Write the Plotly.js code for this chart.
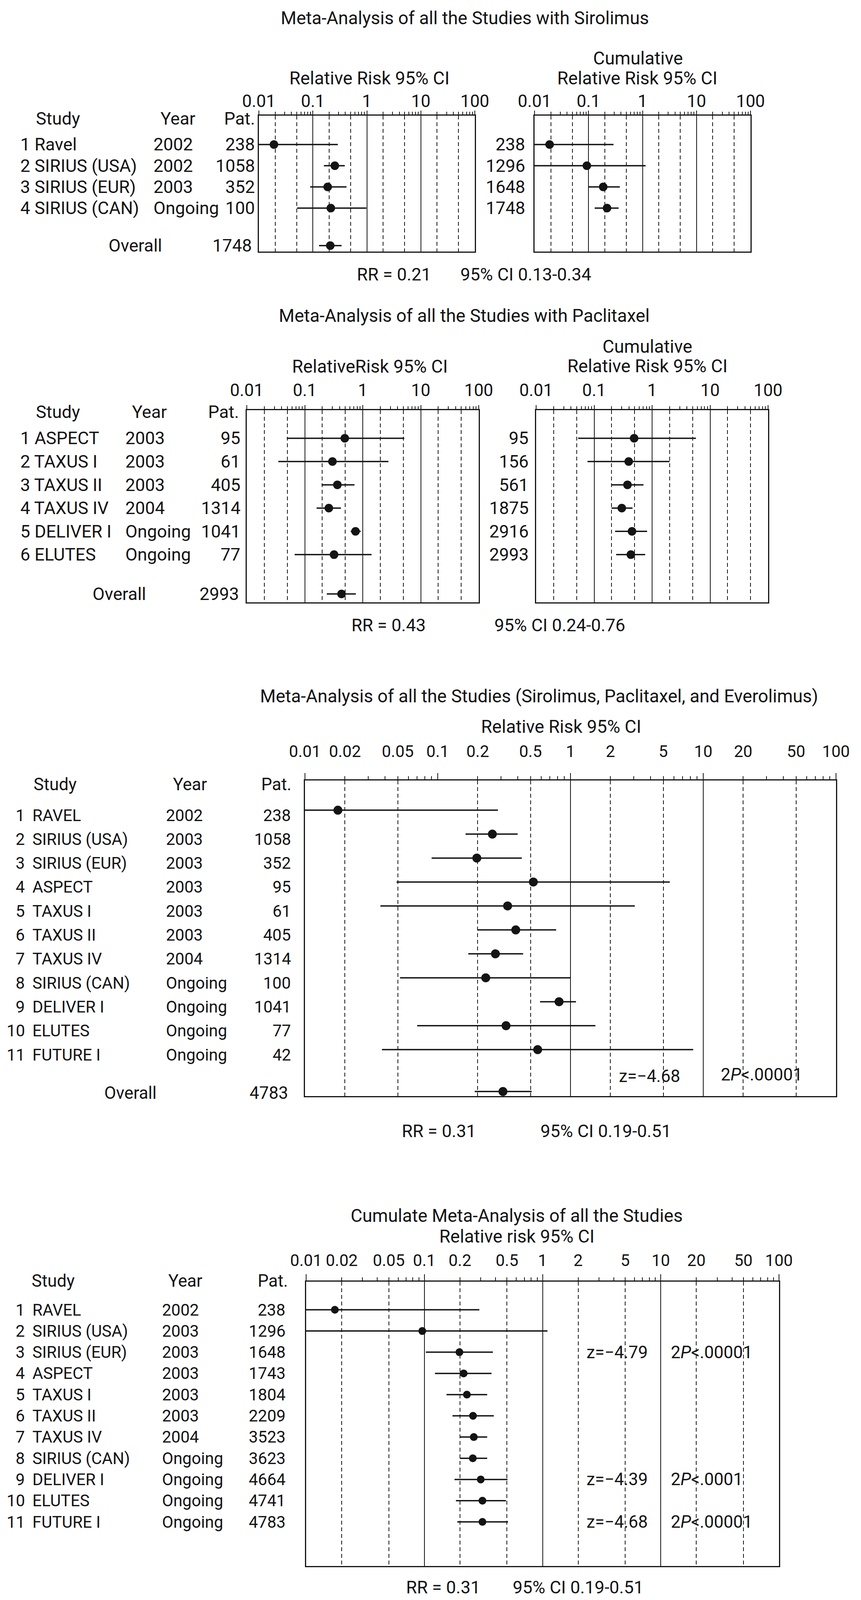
<!DOCTYPE html>
<html><head><meta charset="utf-8">
<script src="https://cdn.plot.ly/plotly-3.0.1.min.js"></script>
<style>html,body{margin:0;padding:0;background:#fff}#chart{width:2205px;height:4132px}</style>
</head><body><div id="chart"></div><script>
// ---------------- DATA ----------------
const decadeTicks = [0.01, 0.1, 1, 10, 100];
const decadeLabels = ['0.01', '0.1', '1', '10', '100'];
const fineTicks = [0.01, 0.02, 0.05, 0.1, 0.2, 0.5, 1, 2, 5, 10, 20, 50, 100];
const fineLabels = ['0.01', '0.02', '0.05', '0.1', '0.2', '0.5', '1', '2', '5', '10', '20', '50', '100'];
const minorTicks = [0.02,0.03,0.04,0.05,0.06,0.07,0.08,0.09,0.2,0.3,0.4,0.5,0.6,0.7,0.8,0.9,2,3,4,5,6,7,8,9,20,30,40,50,60,70,80,90];
const dashedGrid = [0.02, 0.05, 0.2, 0.5, 2, 5, 20, 50];
const solidGridA = [0.1, 1, 10];
const solidGridB = [1, 10];

// Panel 1: Sirolimus
const p1Studies = ['Ravel', 'SIRIUS (USA)', 'SIRIUS (EUR)', 'SIRIUS (CAN)'];
const p1Years = ['2002', '2002', '2003', 'Ongoing'];
const p1Pat = [238, 1058, 352, 100];
const p1RR = [0.019, 0.255, 0.188, 0.215];
const p1Lo = [0.0012, 0.16, 0.089, 0.051];
const p1Hi = [0.29, 0.39, 0.42, 0.98];
const p1Overall = [0.21, 0.13, 0.34];   // RR, lo, hi
const p1OverallPat = 1748;
const p1CumPat = [238, 1296, 1648, 1748];
const p1CumRR = [0.019, 0.093, 0.187, 0.22];
const p1CumLo = [0.0012, 0.0076, 0.10, 0.13];
const p1CumHi = [0.29, 1.14, 0.38, 0.36];

// Panel 2: Paclitaxel
const p2Studies = ['ASPECT', 'TAXUS I', 'TAXUS II', 'TAXUS IV', 'DELIVER I', 'ELUTES'];
const p2Years = ['2003', '2003', '2003', '2004', 'Ongoing', 'Ongoing'];
const p2Pat = [95, 61, 405, 1314, 1041, 77];
const p2RR = [0.49, 0.30, 0.365, 0.26, 0.75, 0.32];
const p2Lo = [0.049, 0.035, 0.195, 0.16, 0.62, 0.067];
const p2Hi = [5.2, 2.77, 0.72, 0.42, 0.92, 1.42];
const p2Overall = [0.43, 0.24, 0.76];
const p2OverallPat = 2993;
const p2CumPat = [95, 156, 561, 1875, 2916, 2993];
const p2CumRR = [0.49, 0.395, 0.376, 0.30, 0.45, 0.43];
const p2CumLo = [0.053, 0.077, 0.20, 0.20, 0.23, 0.24];
const p2CumHi = [5.7, 2.0, 0.71, 0.46, 0.82, 0.76];

// Panel 3: all studies
const p3Studies = ['RAVEL', 'SIRIUS (USA)', 'SIRIUS (EUR)', 'ASPECT', 'TAXUS I', 'TAXUS II', 'TAXUS IV', 'SIRIUS (CAN)', 'DELIVER I', 'ELUTES', 'FUTURE I'];
const p3Years = ['2002', '2003', '2003', '2003', '2003', '2003', '2004', 'Ongoing', 'Ongoing', 'Ongoing', 'Ongoing'];
const p3Pat = [238, 1058, 352, 95, 61, 405, 1314, 100, 1041, 77, 42];
const p3RR = [0.0177, 0.258, 0.197, 0.525, 0.336, 0.387, 0.272, 0.23, 0.82, 0.327, 0.566];
const p3Lo = [0.0011, 0.162, 0.09, 0.049, 0.037, 0.20, 0.17, 0.052, 0.59, 0.07, 0.038];
const p3Hi = [0.284, 0.40, 0.43, 5.6, 3.05, 0.78, 0.44, 1.0, 1.1, 1.54, 8.4];
const p3Overall = [0.31, 0.19, 0.51];
const p3OverallPat = 4783;
const p3Z = 'z=\u22124.68';
const p3P = '2<i>P</i>&lt;.00001';

// Panel 4: cumulative all studies
const p4Pat = [238, 1296, 1648, 1743, 1804, 2209, 3523, 3623, 4664, 4741, 4783];
const p4RR = [0.0175, 0.096, 0.198, 0.215, 0.229, 0.258, 0.262, 0.257, 0.30, 0.31, 0.31];
const p4Lo = [0.0011, 0.0083, 0.103, 0.123, 0.154, 0.173, 0.20, 0.20, 0.18, 0.185, 0.19];
const p4Hi = [0.292, 1.1, 0.38, 0.37, 0.34, 0.387, 0.34, 0.34, 0.505, 0.49, 0.51];
const p4StatRows = [3, 9, 11];
const p4Z = ['z=\u22124.79', 'z=\u22124.39', 'z=\u22124.68'];
const p4P = ['2<i>P</i>&lt;.00001', '2<i>P</i>&lt;.0001', '2<i>P</i>&lt;.00001'];

// ---------------- BUILD ----------------
const W = 2205, H = 4132, INK = '#141414';
const FONT = 'Roboto, Liberation Sans, sans-serif';
const layout = {width: W, height: H, margin: {l: 0, r: 0, t: 0, b: 0}, paper_bgcolor: '#fff',
  plot_bgcolor: 'rgba(0,0,0,0)', showlegend: false, font: {family: FONT, size: 44, color: INK}, annotations: []};
const traces = [];
const xName = n => n === 1 ? 'x' : 'x' + n;
const xKey = n => n === 1 ? 'xaxis' : 'xaxis' + n;
const yName = n => n === 1 ? 'y' : 'y' + n;
const yKey = n => n === 1 ? 'yaxis' : 'yaxis' + n;

function panel(p, box, yRange, tickV, tickT, solidV, st) {
  const xm = 3 * p + 1, xa = 3 * p + 2, xb = 3 * p + 3, yn = p + 1;
  const dom = [box.l / W, box.r / W];
  const ydom = [1 - box.b / H, 1 - box.t / H];
  layout[xKey(xm)] = {type: 'log', range: [-2, 2], domain: dom, anchor: yName(yn), side: 'top',
    tickmode: 'array', tickvals: tickV, ticktext: tickT, ticks: 'outside', ticklen: st.minLen, tickwidth: 2, tickcolor: INK,
    tickfont: {size: st.tickSize, color: INK, family: FONT}, ticklabelstandoff: st.standoff, tickangle: 0,
    showgrid: false, zeroline: false, showline: true, mirror: true, linewidth: 3, linecolor: INK,
    minor: {tickmode: 'array', tickvals: minorTicks, ticks: 'outside', ticklen: st.minLen, tickwidth: 2, tickcolor: INK, showgrid: false},
    fixedrange: true};
  layout[xKey(xa)] = {type: 'log', range: [-2, 2], domain: dom, anchor: yName(yn), overlaying: xName(xm), side: 'top',
    tickmode: 'array', tickvals: decadeTicks, ticks: 'outside', ticklen: st.majLen, tickwidth: 2, tickcolor: INK,
    showticklabels: false, showgrid: false, zeroline: false, showline: false,
    minor: {tickmode: 'array', tickvals: dashedGrid, ticks: '', showgrid: true, griddash: '10px,7px', gridcolor: INK, gridwidth: 2},
    fixedrange: true};
  layout[xKey(xb)] = {type: 'log', range: [-2, 2], domain: dom, anchor: yName(yn), overlaying: xName(xm), side: 'top',
    tickmode: 'array', tickvals: solidV, ticks: '', showticklabels: false, showgrid: true, gridcolor: INK, gridwidth: 2,
    zeroline: false, showline: false, fixedrange: true};
  layout[yKey(yn)] = {domain: ydom, range: yRange, anchor: xName(xm), showticklabels: false, ticks: '',
    showgrid: false, zeroline: false, showline: true, mirror: true, linewidth: 3, linecolor: INK, fixedrange: true};
  traces.push({type: 'scatter', x: [], y: [], xaxis: xName(xa), yaxis: yName(yn), hoverinfo: 'skip'});
  traces.push({type: 'scatter', x: [], y: [], xaxis: xName(xb), yaxis: yName(yn), hoverinfo: 'skip'});
  return {x: xName(xm), y: yName(yn)};
}

function forest(ax, rows, rr, lo, hi, size, lw) {
  const xs = [], ys = [];
  rows.forEach((r, i) => { xs.push(lo[i], hi[i], null); ys.push(r, r, null); });
  traces.push({type: 'scatter', mode: 'lines', x: xs, y: ys, xaxis: ax.x, yaxis: ax.y,
    line: {color: INK, width: lw}, hoverinfo: 'skip', cliponaxis: true});
  traces.push({type: 'scatter', mode: 'markers', x: rr, y: rows, xaxis: ax.x, yaxis: ax.y,
    marker: {color: INK, size: size}, hoverinfo: 'skip', cliponaxis: true});
}

function txt(text, x, y, anchor, yref, opts) {
  opts = opts || {};
  layout.annotations.push({text: text, x: x / W, xref: 'paper', y: yref === 'paper' ? 1 - y / H : y, yref: yref,
    xanchor: anchor, yanchor: 'middle', showarrow: false, yshift: opts.yshift || 0,
    font: {family: FONT, size: opts.size || 44, color: INK}});
}
const seq = n => Array.from({length: n}, (_, i) => i + 1);
const TS = 46; // title size

// ---- Panel 1 ----
{
  const rows = seq(p1Studies.length), oy = 5.77, S = 45;
  const st = {minLen: 7, majLen: 12, tickSize: 44, standoff: -6};
  const a = panel(0, {l: 663, r: 1216, t: 296, b: 644}, [6.05, -0.363], decadeTicks, decadeLabels, solidGridA, st);
  const b = panel(1, {l: 1369, r: 1922, t: 296, b: 644}, [6.05, -0.363], decadeTicks, decadeLabels, solidGridA, st);
  forest(a, rows, p1RR, p1Lo, p1Hi, 22, 3.5);
  forest(a, [oy], [p1Overall[0]], [p1Overall[1]], [p1Overall[2]], 22, 3.5);
  forest(b, rows, p1CumRR, p1CumLo, p1CumHi, 22, 3.5);
  txt('Meta-Analysis of all the Studies with Sirolimus', 1190, 46, 'center', 'paper', {size: TS});
  txt('Relative Risk 95% CI', 946, 200, 'center', 'paper', {size: TS});
  txt('Cumulative', 1634, 149, 'center', 'paper', {size: TS});
  txt('Relative Risk 95% CI', 1632, 200, 'center', 'paper', {size: TS});
  txt('Study', 90, 303, 'left', 'paper', {size: S});
  txt('Year', 409, 303, 'left', 'paper', {size: S});
  txt('Pat.', 572, 303, 'left', 'paper', {size: S});
  rows.forEach((r, i) => {
    txt(r + ' ' + p1Studies[i], 50, r, 'left', a.y, {size: S});
    txt(p1Years[i], 391, r, 'left', a.y, {size: S});
    txt(String(p1Pat[i]), 655, r, 'right', a.y, {size: S});
    txt(String(p1CumPat[i]), 1347, r, 'right', a.y, {size: S});
  });
  txt('Overall', 276, oy, 'left', a.y, {size: S});
  txt(String(p1OverallPat), 647, oy, 'right', a.y, {size: S});
  txt('RR = ' + p1Overall[0], 912, 702, 'left', 'paper', {size: S});
  txt('95% CI ' + p1Overall[1] + '-' + p1Overall[2], 1177, 702, 'left', 'paper', {size: S});
}

// ---- Panel 2 ----
{
  const rows = seq(p2Studies.length), oy = 7.69, S = 45;
  const st = {minLen: 7, majLen: 12, tickSize: 44, standoff: 8};
  const a = panel(2, {l: 632, r: 1226, t: 1050, b: 1542}, [8.05, -0.208], decadeTicks, decadeLabels, solidGridA, st);
  const b = panel(3, {l: 1373, r: 1967, t: 1050, b: 1542}, [8.05, -0.208], decadeTicks, decadeLabels, solidGridA, st);
  forest(a, rows, p2RR, p2Lo, p2Hi, 22, 3.5);
  forest(a, [oy], [p2Overall[0]], [p2Overall[1]], [p2Overall[2]], 22, 3.5);
  forest(b, rows, p2CumRR, p2CumLo, p2CumHi, 22, 3.5);
  txt('Meta-Analysis of all the Studies with Paclitaxel', 1189, 808, 'center', 'paper', {size: TS});
  txt('RelativeRisk 95% CI', 947, 938, 'center', 'paper', {size: TS});
  txt('Cumulative', 1658, 887, 'center', 'paper', {size: TS});
  txt('Relative Risk 95% CI', 1658, 937, 'center', 'paper', {size: TS});
  txt('Study', 90, 1054, 'left', 'paper', {size: S});
  txt('Year', 336, 1054, 'left', 'paper', {size: S});
  txt('Pat.', 531, 1054, 'left', 'paper', {size: S});
  rows.forEach((r, i) => {
    txt(r + ' ' + p2Studies[i], 50, r, 'left', a.y, {size: S});
    txt(p2Years[i], 319, r, 'left', a.y, {size: S});
    txt(String(p2Pat[i]), 618, r, 'right', a.y, {size: S});
    txt(String(p2CumPat[i]), 1356, r, 'right', a.y, {size: S});
  });
  txt('Overall', 235, oy, 'left', a.y, {size: S});
  txt(String(p2OverallPat), 614, oy, 'right', a.y, {size: S});
  txt('RR = ' + p2Overall[0], 898, 1600, 'left', 'paper', {size: S});
  txt('95% CI ' + p2Overall[1] + '-' + p2Overall[2], 1264, 1600, 'left', 'paper', {size: S});
}

// ---- Panel 3 ----
{
  const rows = seq(p3Studies.length), oy = 12.75, S = 42;
  const st = {minLen: 8, majLen: 18, tickSize: 42, standoff: 32};
  const a = panel(4, {l: 781, r: 2141, t: 1998, b: 2806}, [12.94, -0.24], fineTicks, fineLabels, solidGridB, st);
  forest(a, rows, p3RR, p3Lo, p3Hi, 23, 3.5);
  forest(a, [oy], [p3Overall[0]], [p3Overall[1]], [p3Overall[2]], 23, 3.5);
  txt('Meta-Analysis of all the Studies (Sirolimus, Paclitaxel, and Everolimus)', 1380, 1782, 'center', 'paper', {size: TS});
  txt('Relative Risk 95% CI', 1437, 1860, 'center', 'paper', {size: TS});
  txt('Study', 84, 2008, 'left', 'paper', {size: 44});
  txt('Year', 441, 2008, 'left', 'paper', {size: 44});
  txt('Pat.', 667, 2008, 'left', 'paper', {size: 44});
  rows.forEach((r, i) => {
    txt(String(r), 66, r, 'right', a.y, {size: S, yshift: -13});
    txt(p3Studies[i], 81, r, 'left', a.y, {size: S, yshift: -13});
    txt(p3Years[i], 423, r, 'left', a.y, {size: S, yshift: -13});
    txt(String(p3Pat[i]), 747, r, 'right', a.y, {size: S, yshift: -13});
  });
  txt('Overall', 265, oy, 'left', a.y, {size: 44, yshift: -4});
  txt(String(p3OverallPat), 740, oy, 'right', a.y, {size: 44, yshift: -4});
  txt(p3Z, 1583, 2755, 'left', 'paper', {size: 44});
  txt(p3P, 1844, 2751, 'left', 'paper', {size: 44});
  txt('RR = ' + p3Overall[0], 1027, 2895, 'left', 'paper', {size: 45});
  txt('95% CI ' + p3Overall[1] + '-' + p3Overall[2], 1382, 2895, 'left', 'paper', {size: 45});
}

// ---- Panel 4 ----
{
  const rows = seq(p3Studies.length), S = 42;
  const st = {minLen: 8, majLen: 18, tickSize: 42, standoff: 12};
  const a = panel(5, {l: 784, r: 1995, t: 3281, b: 4009}, [13.08, -0.326], fineTicks, fineLabels, solidGridA, st);
  forest(a, rows, p4RR, p4Lo, p4Hi, 20, 3.5);
  txt('Cumulate Meta-Analysis of all the Studies', 1323, 3112, 'center', 'paper', {size: TS});
  txt('Relative risk 95% CI', 1323, 3165, 'center', 'paper', {size: TS});
  txt('Study', 79, 3279, 'left', 'paper', {size: 44});
  txt('Year', 429, 3279, 'left', 'paper', {size: 44});
  txt('Pat.', 658, 3279, 'left', 'paper', {size: 44});
  rows.forEach((r, i) => {
    txt(String(r), 66, r, 'right', a.y, {size: S});
    txt(p3Studies[i], 81, r, 'left', a.y, {size: S});
    txt(p3Years[i], 413, r, 'left', a.y, {size: S});
    txt(String(p4Pat[i]), 733, r, 'right', a.y, {size: S});
  });
  p4StatRows.forEach((r, i) => {
    txt(p4Z[i], 1500, r, 'left', a.y, {size: 44});
    txt(p4P[i], 1716, r, 'left', a.y, {size: 44});
  });
  txt('RR = ' + p3Overall[0], 1038, 4063, 'left', 'paper', {size: 45});
  txt('95% CI ' + p3Overall[1] + '-' + p3Overall[2], 1311, 4063, 'left', 'paper', {size: 45});
}

Plotly.newPlot('chart', traces, layout, {staticPlot: true, displayModeBar: false});
</script></body></html>
